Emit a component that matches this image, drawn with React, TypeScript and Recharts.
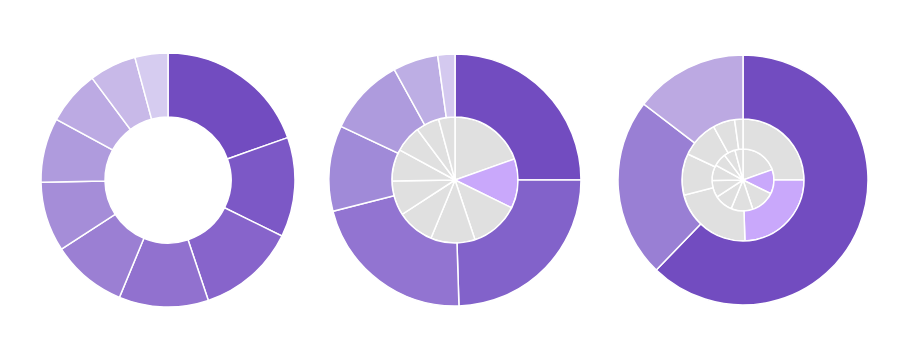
import React from 'react';
import { PieChart, Pie, Cell } from 'recharts';

// shares (percent, clockwise from 12 o'clock)
const segments = ['A', 'B', 'C', 'D', 'E', 'F', 'G', 'H', 'I', 'J'];
const segmentValues = [19.6, 12.7, 12.6, 11.4, 9.6, 8.9, 8.2, 6.9, 6.0, 4.2];

const groups = ['G1', 'G2', 'G3', 'G4', 'G5', 'G6', 'G7'];
const groupValues = [25, 24.5, 21.5, 11, 10, 5.8, 2.2];

const totals = ['T1', 'T2', 'T3'];
const totalValues = [62.2, 23.2, 14.6];

const segmentData = segments.map((name, i) => ({ name, value: segmentValues[i] }));
const groupData = groups.map((name, i) => ({ name, value: groupValues[i] }));
const totalData = totals.map((name, i) => ({ name, value: totalValues[i] }));

const SEGMENT_COLORS = ['#724cc0', '#7c58c6', '#8764cb', '#9171cf', '#9b7fd3', '#a58dd8', '#af9bdd', '#bcaae3', '#c8b9e8', '#d6ccf0'];
const GROUP_COLORS = ['#724cc0', '#8262ca', '#9274d1', '#a08ad8', '#ae9bdd', '#bdaee4', '#d4c9ef'];
const TOTAL_COLORS = ['#724cc0', '#997fd4', '#bca9e2'];
const GRAY = '#e0e0e0';
const HIGHLIGHT = '#c9a8fb';

const common = {
    dataKey: 'value',
    startAngle: 90,
    endAngle: -270,
    stroke: '#ffffff',
    strokeWidth: 1.5,
    isAnimationActive: false,
};

export default function App() {
    return (
        <div style={{ position: 'fixed', left: 0, top: 0, width: 910, height: 361, background: '#fff' }}>
            <PieChart width={910} height={361} margin={{ top: 0, right: 0, bottom: 0, left: 0 }}>
                {/* left: plain donut */}
                <Pie {...common} data={segmentData} cx={168} cy={180} innerRadius={63} outerRadius={127}>
                    {segmentData.map((_, i) => (
                        <Cell key={`a-${i}`} fill={SEGMENT_COLORS[i]} />
                    ))}
                </Pie>

                {/* middle: pie + outer ring */}
                <Pie {...common} data={segmentData} cx={455} cy={180} innerRadius={0} outerRadius={63}>
                    {segmentData.map((_, i) => (
                        <Cell key={`b-${i}`} fill={i === 1 ? HIGHLIGHT : GRAY} />
                    ))}
                </Pie>
                <Pie {...common} data={groupData} cx={455} cy={180} innerRadius={63} outerRadius={126}>
                    {groupData.map((_, i) => (
                        <Cell key={`c-${i}`} fill={GROUP_COLORS[i]} />
                    ))}
                </Pie>

                {/* right: three levels */}
                <Pie {...common} data={segmentData} cx={743} cy={180} innerRadius={0} outerRadius={31}>
                    {segmentData.map((_, i) => (
                        <Cell key={`d-${i}`} fill={i === 1 ? HIGHLIGHT : GRAY} />
                    ))}
                </Pie>
                <Pie {...common} data={groupData} cx={743} cy={180} innerRadius={31} outerRadius={61}>
                    {groupData.map((_, i) => (
                        <Cell key={`e-${i}`} fill={i === 1 ? HIGHLIGHT : GRAY} />
                    ))}
                </Pie>
                <Pie {...common} data={totalData} cx={743} cy={180} innerRadius={61} outerRadius={125}>
                    {totalData.map((_, i) => (
                        <Cell key={`f-${i}`} fill={TOTAL_COLORS[i]} />
                    ))}
                </Pie>
            </PieChart>
        </div>
    );
}
